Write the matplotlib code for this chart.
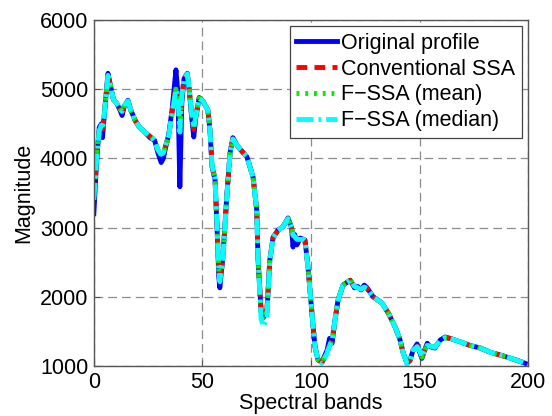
import numpy as np
import matplotlib
matplotlib.use('Agg')
import matplotlib.pyplot as plt

plt.rcParams['font.family'] = ['Liberation Sans', 'DejaVu Sans']

# band positions
bands = [0, 1, 1.5, 2.5, 3.5, 4, 5, 6.5, 8, 9, 10.5, 12, 13, 14, 15.7, 17, 19, 21, 23.5, 25.8,
         27, 28, 29.5, 31, 32, 33, 34.5, 36, 37.8, 38.7, 39.6, 40.5, 41.5, 43, 44, 45, 46, 47, 48.5, 50.2,
         52.5, 53.5, 54.4, 55.8, 56.7, 57.5, 58, 59.4, 61.3, 62.7, 64, 66.4, 70.5, 73.3, 75, 75.6, 77, 78, 79.7, 81,
         82.5, 84.8, 87, 89.4, 91, 91.7, 92.5, 93.5, 95, 96.5, 97.2, 98.6, 100.4, 101.8, 103.2, 105, 107.4, 108.5, 109.7, 111,
         112.4, 114.7, 118, 120, 121.5, 123, 124.5, 125.8, 128.6, 132.7, 135.5, 138.7, 141, 142.4, 144.2, 145.6, 147, 148.8, 150, 151,
         152.5, 153.5, 154.8, 157, 159.4, 161.7, 164, 168.7, 173, 178, 182.5, 187, 191.7, 196, 198.6, 200]

original = [3200, 3800, 4050, 4450, 4500, 4300, 4700, 5230, 5000, 4850, 4800, 4700, 4620, 4750, 4840, 4700, 4550, 4450, 4380, 4300,
            4280, 4260, 4080, 3940, 4000, 4150, 4350, 4700, 5280, 4950, 3590, 4800, 5150, 5230, 4950, 4600, 4310, 4600, 4880, 4830,
            4700, 4400, 3880, 3690, 3010, 2300, 2130, 2575, 3500, 4080, 4300, 4165, 4020, 3730, 3250, 2530, 1800, 1700, 1780, 2530,
            2860, 2965, 3010, 3140, 3000, 2720, 2900, 2750, 2850, 2830, 2820, 2430, 1770, 1280, 1090, 1060, 1230, 1400, 1330, 1660,
            1950, 2170, 2240, 2130, 2150, 2100, 2170, 2130, 2000, 1910, 1770, 1565, 1375, 1190, 1040, 1090, 1230, 1320, 1200, 1110,
            1250, 1330, 1280, 1260, 1375, 1420, 1400, 1350, 1300, 1260, 1200, 1160, 1115, 1070, 1040, 1020]

conv_ssa = [3500, 3850, 4100, 4400, 4480, 4420, 4700, 5200, 5000, 4850, 4800, 4720, 4670, 4760, 4830, 4700, 4550, 4450, 4380, 4320,
            4290, 4250, 4120, 4040, 4060, 4180, 4330, 4650, 5050, 4950, 4550, 4900, 5150, 5220, 4980, 4650, 4420, 4620, 4870, 4830,
            4700, 4400, 3900, 3700, 3050, 2400, 2220, 2550, 3480, 4070, 4280, 4170, 4020, 3730, 3250, 2550, 1780, 1720, 1820, 2520,
            2850, 2960, 3010, 3130, 3000, 2880, 2870, 2820, 2830, 2830, 2810, 2430, 1770, 1280, 1090, 1050, 1200, 1300, 1370, 1660,
            1950, 2170, 2240, 2150, 2130, 2110, 2140, 2120, 2000, 1910, 1770, 1565, 1375, 1190, 1040, 1080, 1230, 1290, 1220, 1130,
            1240, 1300, 1290, 1270, 1370, 1410, 1400, 1350, 1300, 1260, 1200, 1160, 1115, 1070, 1040, 1020]

fssa_mean = [3450, 3850, 4100, 4400, 4480, 4420, 4700, 5200, 5000, 4850, 4800, 4720, 4670, 4760, 4830, 4700, 4550, 4450, 4380, 4320,
             4290, 4250, 4120, 4050, 4070, 4180, 4330, 4650, 5000, 4900, 4420, 4900, 5150, 5220, 4980, 4650, 4430, 4620, 4870, 4830,
             4700, 4400, 3900, 3700, 3050, 2400, 2220, 2550, 3480, 4070, 4280, 4170, 4020, 3730, 3250, 2550, 1720, 1660, 1790, 2520,
             2850, 2960, 3010, 3130, 3000, 2880, 2870, 2820, 2830, 2830, 2810, 2430, 1770, 1280, 1090, 1050, 1200, 1300, 1370, 1660,
             1950, 2170, 2240, 2150, 2130, 2110, 2140, 2120, 2000, 1910, 1770, 1565, 1375, 1190, 1040, 1080, 1230, 1290, 1220, 1130,
             1240, 1300, 1290, 1270, 1370, 1410, 1400, 1350, 1300, 1260, 1200, 1160, 1115, 1070, 1040, 1020]

fssa_median = [3400, 3850, 4100, 4400, 4480, 4430, 4700, 5200, 5000, 4850, 4800, 4720, 4680, 4760, 4830, 4700, 4550, 4450, 4380, 4320,
               4290, 4250, 4120, 4060, 4080, 4180, 4330, 4650, 5000, 4880, 4380, 4900, 5150, 5220, 4980, 4650, 4440, 4620, 4870, 4830,
               4700, 4400, 3900, 3700, 3050, 2400, 2220, 2550, 3480, 4070, 4280, 4170, 4020, 3730, 3250, 2550, 1680, 1570, 1700, 2520,
               2850, 2960, 3010, 3130, 3000, 2890, 2870, 2830, 2830, 2830, 2810, 2430, 1770, 1280, 1090, 1040, 1190, 1290, 1370, 1660,
               1950, 2170, 2240, 2150, 2130, 2110, 2140, 2120, 2000, 1910, 1770, 1565, 1375, 1190, 1030, 1080, 1230, 1280, 1220, 1130,
               1240, 1300, 1290, 1270, 1370, 1410, 1400, 1350, 1300, 1260, 1200, 1160, 1115, 1070, 1040, 1020]

labels = ['Original profile', 'Conventional SSA', 'F\u2212SSA (mean)', 'F\u2212SSA (median)']

fig = plt.figure(figsize=(5.52, 4.16), dpi=100)
ax = fig.add_axes([0.170, 0.120, 0.787, 0.832])

lw = 3.5
ax.plot(bands, original, color='#0000ff', lw=lw, ls='-', label=labels[0])
ax.plot(bands, conv_ssa, color='#ff0000', lw=lw, ls=(0, (2.2, 1.5)), label=labels[1])
ax.plot(bands, fssa_mean, color='#00ee00', lw=lw, ls=(0, (0.6, 1.2)), label=labels[2])
ax.plot(bands, fssa_median, color='#00ffff', lw=lw, ls=(0, (3.5, 1.0, 0.6, 1.0)), label=labels[3])

ax.set_xlim(0, 200)
ax.set_ylim(1000, 6000)
ax.set_xticks([0, 50, 100, 150, 200])
ax.set_yticks([1000, 2000, 3000, 4000, 5000, 6000])
ax.grid(True, color='#8c8c8c', ls=(0, (7, 4)), lw=0.9)
ax.tick_params(direction='in', length=4, color='#555555', labelsize=15.5, pad=4)
for s in ax.spines.values():
    s.set_color('#555555')
    s.set_linewidth(1.0)

ax.set_xlabel('Spectral bands', fontsize=15.5, labelpad=0)
ax.set_ylabel('Magnitude', fontsize=15.5, labelpad=4)

leg = ax.legend(loc='upper right', bbox_to_anchor=(1, 1), borderaxespad=0.3, fontsize=15.5,
                handlelength=1.9, handletextpad=0.2, labelspacing=0.22, borderpad=0.3,
                fancybox=False, framealpha=1, edgecolor='#444444')
leg.get_frame().set_linewidth(0.9)

fig.savefig('out.png', dpi=100)
